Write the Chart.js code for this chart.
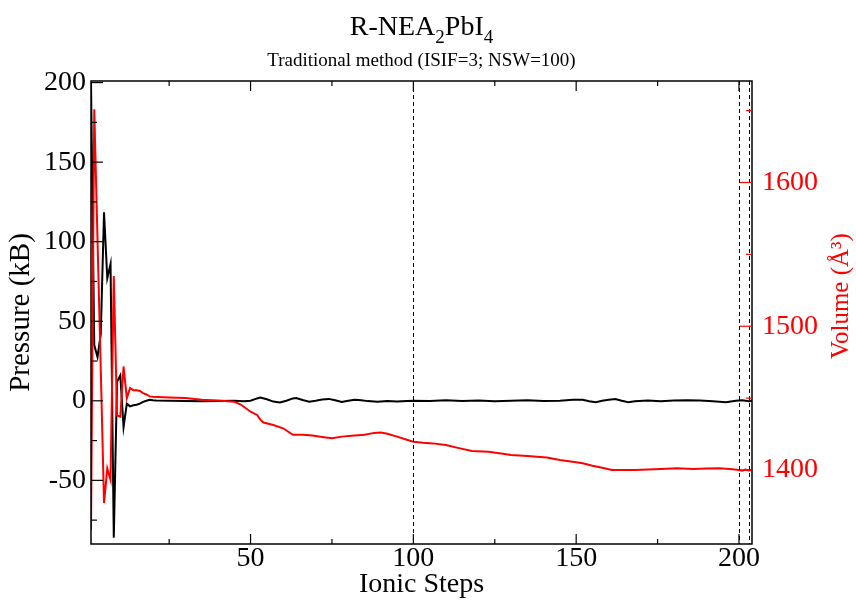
<!DOCTYPE html>
<html><head><meta charset="utf-8">
<script src="https://cdn.jsdelivr.net/npm/chart.js@4"></script>
<style>html,body{margin:0;padding:0;background:#fff}canvas{display:block}</style>
</head><body>
<canvas id="c" width="856" height="601"></canvas>
<script>
const pressureSteps = [1,2,3,4,5,6,7,8,9,10,11,12,13,14,15,16,17,18,19,20,
  21,25,30,35,40,45,48,50,52,53,55,57,59,61,63,64,66,68,70,72,74,76,78,80,82,84,86,89,92,95,
  98,100,105,110,115,120,125,130,135,140,145,149,152,154,156,158,160,162,164,166,
  168,172,176,180,184,188,192,196,199,201,203,204];
const pressureValues = [200,35,27.5,42,118.5,77,86,-86,12,16,-16.5,-1.8,-3.5,-2.8,-2.5,-1.8,-0.7,0,0.6,0.3,
  0.2,0,-0.2,-0.3,-0.2,0,-0.3,0,1.5,2,1,-0.5,-1,0,1.5,1.7,0.5,-0.6,0,0.8,1.2,0.3,-0.8,0,0.6,0.4,-0.2,-0.6,-0.2,-0.4,
  -0.2,0,-0.2,0.3,-0.2,0.2,-0.3,0,0.3,-0.2,0.1,0.6,0.7,-0.3,-0.9,0,0.6,1.1,0,-0.9,
  -0.3,0.2,-0.3,0.2,0.3,0.2,-0.3,-0.9,0,0.3,-0.3,0];
const volumeSteps = [1,2,3,4,5,6,7,8,9,10,11,12,13,14,15,16,17,18,19,20,
  25,30,35,40,45,47,50,52,53,54,57,60,63,66,69,72,75,78,81,85,
  88,90,92,95,98,100,103,106,110,114,118,123,127,130,135,141,145,150,152,155,
  158,161,165,168,172,176,181,186,190,194,198,200,201,202,203,204];
const volumeValues = [1358,1651,1560,1470,1377,1401,1393,1535,1438,1437,1472,1450,1457,1455.5,1455.5,1455,1453.5,1452.5,1451.2,1451,
  1450.5,1450,1448.8,1448.3,1447.4,1445.5,1440.5,1438.3,1435,1433,1431.3,1429,1424.5,1424.5,1424,1423,1422,1423.2,1423.8,1424.5,
  1425.8,1426,1425.2,1423.2,1421,1419.7,1419,1418.5,1417.4,1415.2,1413.2,1412.7,1411.4,1410.4,1409.7,1408.6,1407,1405.4,1404.7,1403,
  1401.5,1400,1400,1400,1400.4,1400.7,1401.2,1400.7,1401,1401.2,1400.5,1400,1399.5,1400.3,1399.6,1400];
const xMajorTicks = [50,100,150,200];
const xMinorTicks = [25,75,125,175];
const pressureMajorTicks = [-50,0,50,100,150,200];
const pressureMinorTicks = [-75,-25,25,75,125,175];
const volumeMajorTicks = [1400,1500,1600];
const volumeMinorTicks = [1450,1550,1650];
const restartSteps = [100,200,203];

const FONT = '"Liberation Serif", "Times New Roman", serif';

const decor = {
  id: 'decor',
  afterDatasetsDraw(chart) {
    const {ctx, chartArea: a, scales} = chart;
    const x = scales.x, y = scales.y, y2 = scales.y2;
    ctx.save();
    ctx.strokeStyle = '#000'; ctx.lineWidth = 1; ctx.setLineDash([4,3]);
    restartSteps.forEach(s => {
      const px = Math.round(x.getPixelForValue(s)) + 0.5;
      ctx.beginPath(); ctx.moveTo(px, a.top); ctx.lineTo(px, a.bottom); ctx.stroke();
    });
    ctx.setLineDash([]);
    ctx.lineWidth = 1.5; ctx.strokeStyle = '#000';
    ctx.strokeRect(a.left, a.top, a.right - a.left, a.bottom - a.top);
    ctx.lineWidth = 1.2;
    const tick = (x1,y1,x2,y2c) => { ctx.beginPath(); ctx.moveTo(x1,y1); ctx.lineTo(x2,y2c); ctx.stroke(); };
    xMajorTicks.forEach(v => { const p = x.getPixelForValue(v); tick(p,a.bottom,p,a.bottom-10); tick(p,a.top,p,a.top+10); });
    xMinorTicks.forEach(v => { const p = x.getPixelForValue(v); tick(p,a.bottom,p,a.bottom-5); tick(p,a.top,p,a.top+5); });
    pressureMajorTicks.forEach(v => { const p = y.getPixelForValue(v); if (p > a.top+1) tick(a.left,p,a.left+12,p); });
    pressureMinorTicks.forEach(v => { const p = y.getPixelForValue(v); tick(a.left,p,a.left+6,p); });
    ctx.strokeStyle = '#ff0000';
    volumeMajorTicks.forEach(v => { const p = y2.getPixelForValue(v); tick(a.right,p,a.right-12,p); });
    volumeMinorTicks.forEach(v => { const p = y2.getPixelForValue(v); tick(a.right,p,a.right-6,p); });
    ctx.restore();
  },
  afterDraw(chart) {
    const {ctx, chartArea: a} = chart;
    ctx.save();
    const parts = [['R-NEA',0],['2',1],['PbI',0],['4',1]];
    const big = '28px ' + FONT, small = '19px ' + FONT;
    let w = 0;
    parts.forEach(([t,s]) => { ctx.font = s ? small : big; w += ctx.measureText(t).width; });
    let cx = (a.left + a.right) / 2 - w / 2;
    ctx.fillStyle = '#000'; ctx.textBaseline = 'alphabetic'; ctx.textAlign = 'left';
    parts.forEach(([t,s]) => { ctx.font = s ? small : big; ctx.fillText(t, cx, s ? 43 : 35); cx += ctx.measureText(t).width; });
    ctx.font = '19px ' + FONT; ctx.textAlign = 'center';
    ctx.fillText('Traditional method (ISIF=3; NSW=100)', (a.left + a.right) / 2, 66);
    ctx.translate(841, 296);
    ctx.rotate(-Math.PI / 2);
    ctx.fillStyle = '#ff0000'; ctx.font = '25px ' + FONT; ctx.textAlign = 'center'; ctx.textBaseline = 'middle';
    ctx.fillText('Volume (Å³)', 0, 0);
    ctx.restore();
  }
};

new Chart(document.getElementById('c'), {
  type: 'line',
  data: {
    datasets: [
      { label: 'Volume', yAxisID: 'y2', data: volumeSteps.map((s,i) => ({x: s, y: volumeValues[i]})),
        borderColor: '#ff0000', borderWidth: 2, pointRadius: 0, tension: 0, fill: false },
      { label: 'Pressure', yAxisID: 'y', data: pressureSteps.map((s,i) => ({x: s, y: pressureValues[i]})),
        borderColor: '#000000', borderWidth: 2, pointRadius: 0, tension: 0, fill: false }
    ]
  },
  options: {
    responsive: false, animation: false, devicePixelRatio: 1,
    layout: { padding: { top: 81, left: 0, right: 0, bottom: 0 } },
    plugins: { legend: { display: false }, tooltip: { enabled: false }, title: { display: false } },
    scales: {
      x: {
        type: 'linear', position: 'bottom', min: 1, max: 204,
        grid: { display: false, drawTicks: false }, border: { display: false },
        afterBuildTicks: s => { s.ticks = xMajorTicks.map(v => ({value: v})); },
        afterFit: s => { s.height = 57; },
        ticks: { color: '#000', font: { family: FONT, size: 28, lineHeight: 1 }, padding: 1, maxRotation: 0, autoSkip: false, callback: v => String(v) },
        title: { display: true, text: 'Ionic Steps', color: '#000', font: { family: FONT, size: 28, lineHeight: 1 }, padding: { top: 0, bottom: 2 } }
      },
      y: {
        type: 'linear', position: 'left', min: -90, max: 201,
        grid: { display: false, drawTicks: false }, border: { display: false },
        afterBuildTicks: s => { s.ticks = pressureMajorTicks.map(v => ({value: v})); },
        afterFit: s => { s.width = 91; },
        ticks: { color: '#000', font: { family: FONT, size: 28, lineHeight: 1 }, padding: 5, callback: v => String(v) },
        title: { display: true, text: 'Pressure (kB)', color: '#000', font: { family: FONT, size: 29, lineHeight: 1 }, padding: { top: 7, bottom: 0 } }
      },
      y2: {
        type: 'linear', position: 'right', min: 1348.5, max: 1670.6,
        grid: { display: false, drawTicks: false }, border: { display: false },
        afterBuildTicks: s => { s.ticks = volumeMajorTicks.map(v => ({value: v})); },
        afterFit: s => { s.width = 104; },
        ticks: { color: '#ff0000', font: { family: FONT, size: 28, lineHeight: 1 }, padding: 10, callback: v => String(v) },
        title: { display: false }
      }
    }
  },
  plugins: [decor]
});
</script>
</body></html>
